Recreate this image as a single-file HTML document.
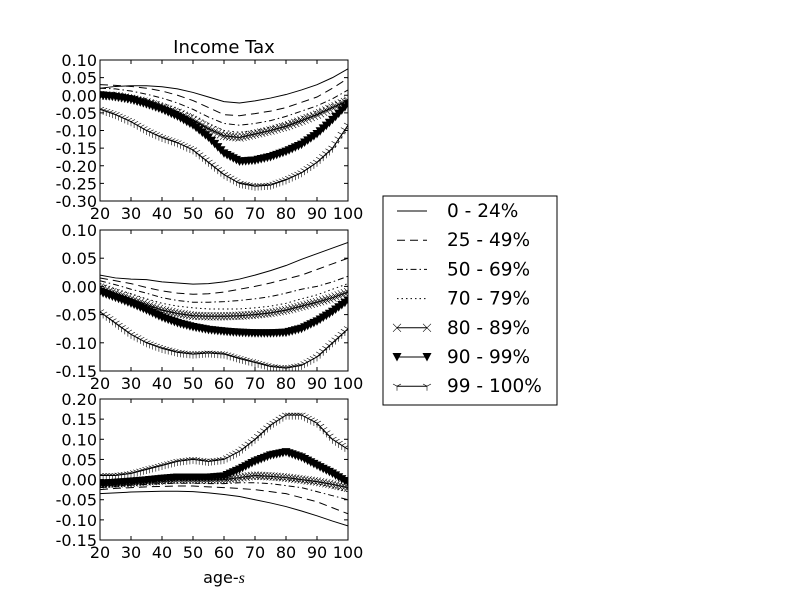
<!DOCTYPE html>
<html><head><meta charset="utf-8"><style>
body{margin:0;background:#fff}
svg{font-family:"DejaVu Sans","Liberation Sans",sans-serif}
</style></head><body>
<svg id="c" width="800" height="600" viewBox="0 0 800 600"></svg>
<script>
const ages=[20,25,30,35,40,45,50,55,60,65,70,75,80,85,90,95,100];
const groupLabels=["0 - 24%","25 - 49%","50 - 69%","70 - 79%","80 - 89%","90 - 99%","99 - 100%"];
const panel1=[
[0.02,0.025,0.027,0.027,0.024,0.018,0.008,-0.005,-0.018,-0.022,-0.016,-0.008,0.002,0.015,0.03,0.05,0.075],
[0.03,0.028,0.025,0.02,0.012,0.0,-0.015,-0.035,-0.055,-0.058,-0.052,-0.045,-0.035,-0.02,-0.005,0.02,0.048],
[0.02,0.018,0.012,0.003,-0.008,-0.022,-0.04,-0.062,-0.08,-0.085,-0.08,-0.072,-0.06,-0.045,-0.03,-0.01,0.015],
[0.01,0.008,0.0,-0.01,-0.022,-0.038,-0.058,-0.08,-0.1,-0.105,-0.1,-0.09,-0.078,-0.062,-0.045,-0.025,-0.005],
[0.0,-0.002,-0.01,-0.02,-0.035,-0.05,-0.07,-0.095,-0.115,-0.12,-0.11,-0.1,-0.088,-0.072,-0.055,-0.035,-0.015],
[0.0,-0.005,-0.012,-0.025,-0.04,-0.06,-0.085,-0.12,-0.165,-0.188,-0.185,-0.175,-0.16,-0.14,-0.11,-0.07,-0.025],
[-0.04,-0.055,-0.075,-0.1,-0.12,-0.135,-0.155,-0.19,-0.225,-0.25,-0.258,-0.255,-0.24,-0.22,-0.19,-0.15,-0.085]];
const panel2=[
[0.02,0.015,0.013,0.012,0.008,0.006,0.004,0.005,0.008,0.013,0.02,0.028,0.037,0.048,0.058,0.068,0.078],
[0.015,0.01,0.005,-0.002,-0.008,-0.012,-0.014,-0.013,-0.01,-0.005,0.0,0.006,0.013,0.02,0.03,0.04,0.05],
[0.01,0.003,-0.005,-0.012,-0.02,-0.025,-0.028,-0.028,-0.027,-0.025,-0.022,-0.018,-0.012,-0.005,0.0,0.008,0.018],
[0.005,-0.005,-0.013,-0.022,-0.03,-0.035,-0.038,-0.04,-0.04,-0.04,-0.038,-0.035,-0.03,-0.022,-0.015,-0.005,0.005],
[-0.002,-0.012,-0.022,-0.032,-0.042,-0.048,-0.052,-0.053,-0.053,-0.052,-0.05,-0.047,-0.042,-0.035,-0.028,-0.02,-0.01],
[-0.01,-0.02,-0.03,-0.042,-0.055,-0.065,-0.072,-0.077,-0.08,-0.082,-0.083,-0.083,-0.082,-0.075,-0.062,-0.045,-0.025],
[-0.045,-0.065,-0.085,-0.1,-0.11,-0.117,-0.12,-0.118,-0.12,-0.128,-0.135,-0.142,-0.145,-0.14,-0.125,-0.1,-0.075]];
const panel3=[
[-0.035,-0.033,-0.031,-0.03,-0.029,-0.029,-0.03,-0.033,-0.037,-0.042,-0.05,-0.058,-0.067,-0.078,-0.09,-0.103,-0.115],
[-0.025,-0.022,-0.02,-0.018,-0.017,-0.016,-0.016,-0.018,-0.02,-0.022,-0.025,-0.03,-0.035,-0.045,-0.055,-0.07,-0.085],
[-0.02,-0.017,-0.014,-0.012,-0.01,-0.009,-0.009,-0.01,-0.01,-0.008,-0.008,-0.01,-0.015,-0.02,-0.03,-0.04,-0.05],
[-0.015,-0.012,-0.01,-0.007,-0.005,-0.003,-0.003,-0.004,-0.003,0.002,0.005,0.003,0.0,-0.005,-0.01,-0.02,-0.03],
[-0.012,-0.01,-0.008,-0.005,-0.002,0.0,0.0,0.0,0.0,0.005,0.01,0.008,0.005,0.0,-0.005,-0.012,-0.02],
[-0.01,-0.008,-0.005,-0.002,0.002,0.005,0.005,0.005,0.008,0.025,0.045,0.06,0.068,0.055,0.035,0.015,-0.008],
[0.01,0.01,0.015,0.025,0.035,0.045,0.05,0.045,0.05,0.07,0.1,0.135,0.16,0.16,0.14,0.1,0.075]];
const xTicks=[20,30,40,50,60,70,80,90,100];
const yTicks1=[0.10,0.05,0.00,-0.05,-0.10,-0.15,-0.20,-0.25,-0.30];
const yTicks2=[0.10,0.05,0.00,-0.05,-0.10,-0.15];
const yTicks3=[0.20,0.15,0.10,0.05,0.00,-0.05,-0.10,-0.15];

const NS="http://www.w3.org/2000/svg";
const svg=document.getElementById('c');
function el(t,a,p){const e=document.createElementNS(NS,t);for(const k in a)e.setAttribute(k,a[k]);(p||svg).appendChild(e);return e;}
const dashes=["","8,5","6,3,1.5,3","1.5,3","","",""];
function marker(g,kind,x,y){
  if(kind==="x"){el('path',{d:`M${x-4},${y-4}L${x+4},${y+4}M${x-4},${y+4}L${x+4},${y-4}`,stroke:'#000','stroke-width':0.6,fill:'none'},g);}
  else if(kind==="v"){el('path',{d:`M${x-4.5},${y-4}L${x+4.5},${y-4}L${x},${y+4.5}Z`,fill:'#000'},g);}
  else if(kind==="1"){el('path',{d:`M${x},${y}L${x},${y+4.5}M${x},${y}L${x-4},${y-2.2}M${x},${y}L${x+4},${y-2.2}`,stroke:'#000','stroke-width':0.6,fill:'none'},g);}
}
const kinds=[null,null,null,null,"x","v","1"];
function panel(idx,top,bottom,ymax,ymin,ticks,data){
  const L=100,R=348;
  const X=a=>L+(a-20)/80*(R-L);
  const Y=v=>top+(ymax-v)/(ymax-ymin)*(bottom-top);
  const g=el('g',{});
  
  
  const clip=el('clipPath',{id:'clip'+idx},g);
  el('rect',{x:L,y:top,width:R-L,height:bottom-top},clip);
  const sg=el('g',{'clip-path':`url(#clip${idx})`},g);
  data.forEach((s,si)=>{
    const sgrp=el('g',{},sg);
    
    
    const pts=s.map((v,i)=>X(ages[i]).toFixed(2)+','+Y(v).toFixed(2)).join(' ');
    const pl=el('polyline',{points:pts,fill:'none',stroke:'#000','stroke-width':1});
    if(dashes[si])pl.setAttribute('stroke-dasharray',dashes[si]);
    sgrp.appendChild(pl);
    if(kinds[si]){
      for(let a=20;a<=100;a++){
        const i=Math.min(Math.floor((a-20)/5),ages.length-2);
        const t=(a-ages[i])/5;
        const v=s[i]+(s[i+1]-s[i])*t;
        marker(sgrp,kinds[si],X(a),Y(v));
      }
    }
  });
  el('rect',{x:L,y:top,width:R-L,height:bottom-top,fill:'none',stroke:'#000','stroke-width':1},g);
  xTicks.forEach(t=>{
    const x=X(t);
    el('line',{x1:x,x2:x,y1:bottom,y2:bottom-4,stroke:'#000'},g);
    el('line',{x1:x,x2:x,y1:top,y2:top+4,stroke:'#000'},g);
    const tx=el('text',{x:x,y:bottom+18,'text-anchor':'middle','font-size':16},g);tx.textContent=t;
    
    
  });
  ticks.forEach(t=>{
    const y=Y(t);
    el('line',{x1:L,x2:L+4,y1:y,y2:y,stroke:'#000'},g);
    el('line',{x1:R,x2:R-4,y1:y,y2:y,stroke:'#000'},g);
    const tx=el('text',{x:L-3,y:y+6,'text-anchor':'end','font-size':16},g);tx.textContent=t.toFixed(2);
    
    
  });
}
panel(1,60,201,0.10,-0.30,yTicks1,panel1);
panel(2,230,371,0.10,-0.15,yTicks2,panel2);
panel(3,399,540,0.20,-0.15,yTicks3,panel3);
const title=el('text',{x:224,y:53,'text-anchor':'middle','font-size':18});title.textContent="Income Tax";


const xl=el('text',{x:224,y:583,'text-anchor':'middle','font-size':16});
xl.innerHTML='age-<tspan font-family="Liberation Serif, serif" font-style="italic">s</tspan>';


const lg=el('g',{});


el('rect',{x:383,y:196,width:174,height:209,fill:'#fff',stroke:'#000','stroke-width':1},lg);
groupLabels.forEach((lab,i)=>{
  const y=211+i*29.2;
  const e=el('g',{},lg);
  
  
  const ln=el('line',{x1:397,x2:427,y1:y,y2:y,stroke:'#000','stroke-width':1},e);
  if(dashes[i])ln.setAttribute('stroke-dasharray',dashes[i]);
  if(kinds[i]){marker(e,kinds[i],397,y);marker(e,kinds[i],427,y);}
  const t=el('text',{x:447,y:y+6,'font-size':18.5},e);t.textContent=lab;
});
</script>
</body></html>
